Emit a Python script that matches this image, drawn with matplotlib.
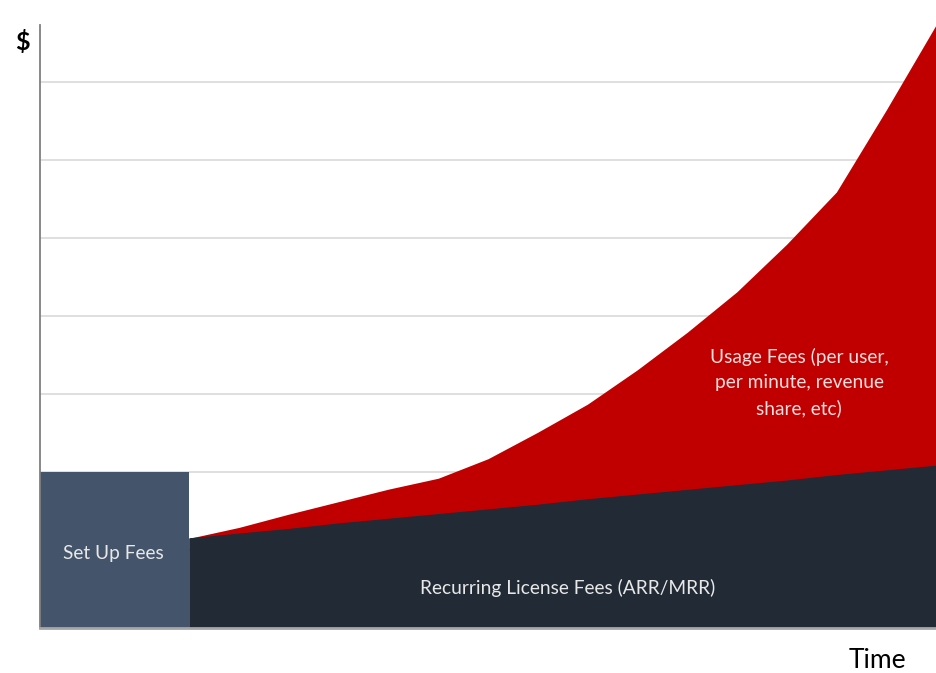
import numpy as np
import matplotlib.pyplot as plt

# donnees (unites arbitraires)
t = np.arange(3, 19)
recurring = [1.15, 1.21, 1.27, 1.34, 1.40, 1.46, 1.52, 1.58,
             1.65, 1.71, 1.77, 1.83, 1.89, 1.96, 2.02, 2.08]
usage = [0.00, 0.08, 0.19, 0.28, 0.38, 0.46, 0.65, 0.93,
         1.22, 1.60, 2.02, 2.48, 3.03, 3.63, 4.62, 5.65]
setup_end = 3
setup_height = 2.0

fig = plt.figure(figsize=(9.36, 6.73), dpi=100)
ax = fig.add_axes([40/936, 45/673, 896/936, 603/673])

rec = np.array(recurring)
tot = rec + np.array(usage)
ax.fill_between(t, 0, tot, color='#C00000', lw=0, zorder=2)
ax.fill_between(t, 0, rec, color='#222A35', ec='#222A35', lw=0.8, zorder=3)
ax.bar(0, setup_height, width=setup_end, align='edge', color='#44546A', lw=0, zorder=4)

ax.set_xlim(0, 18)
ax.set_ylim(0, 7.73)
ax.set_yticks([1, 2, 3, 4, 5, 6, 7])
ax.set_xticks([])
ax.tick_params(left=False, labelleft=False)
ax.grid(axis='y', color='#d9d9d9', lw=1.2, zorder=1)
ax.set_axisbelow(True)
for s in ['top', 'right']:
    ax.spines[s].set_visible(False)
ax.spines['left'].set_color('#7f7f7f')
ax.spines['left'].set_linewidth(1.3)
ax.spines['bottom'].set_color('#a6a6a6')
ax.spines['bottom'].set_linewidth(2)
ax.spines['left'].set_zorder(5)
ax.spines['bottom'].set_zorder(5)

fam = ['Lato', 'DejaVu Sans']
ax.text(1.47, 0.96, 'Set Up Fees', color='#e8e8e8', fontsize=13.8, family=fam,
        ha='center', va='center', zorder=6)
ax.text(10.6, 0.51, 'Recurring License Fees (ARR/MRR)', color='#e8e8e8', fontsize=13.8,
        family=fam, ha='center', va='center', zorder=6)
ax.text(15.25, 3.15, 'Usage Fees (per user,\nper minute, revenue\nshare, etc)', color='#f4dede',
        fontsize=13.8, family=fam, ha='center', va='center', linespacing=1.55, zorder=6)

fig.text(22/936, 1 - 42/673, '$', fontsize=18, fontweight='bold', family=fam,
         ha='center', va='center')
fig.text(877/936, 1 - 661/673, 'Time', fontsize=19, family=fam, ha='center', va='center')

fig.savefig('out.png', dpi=100)
